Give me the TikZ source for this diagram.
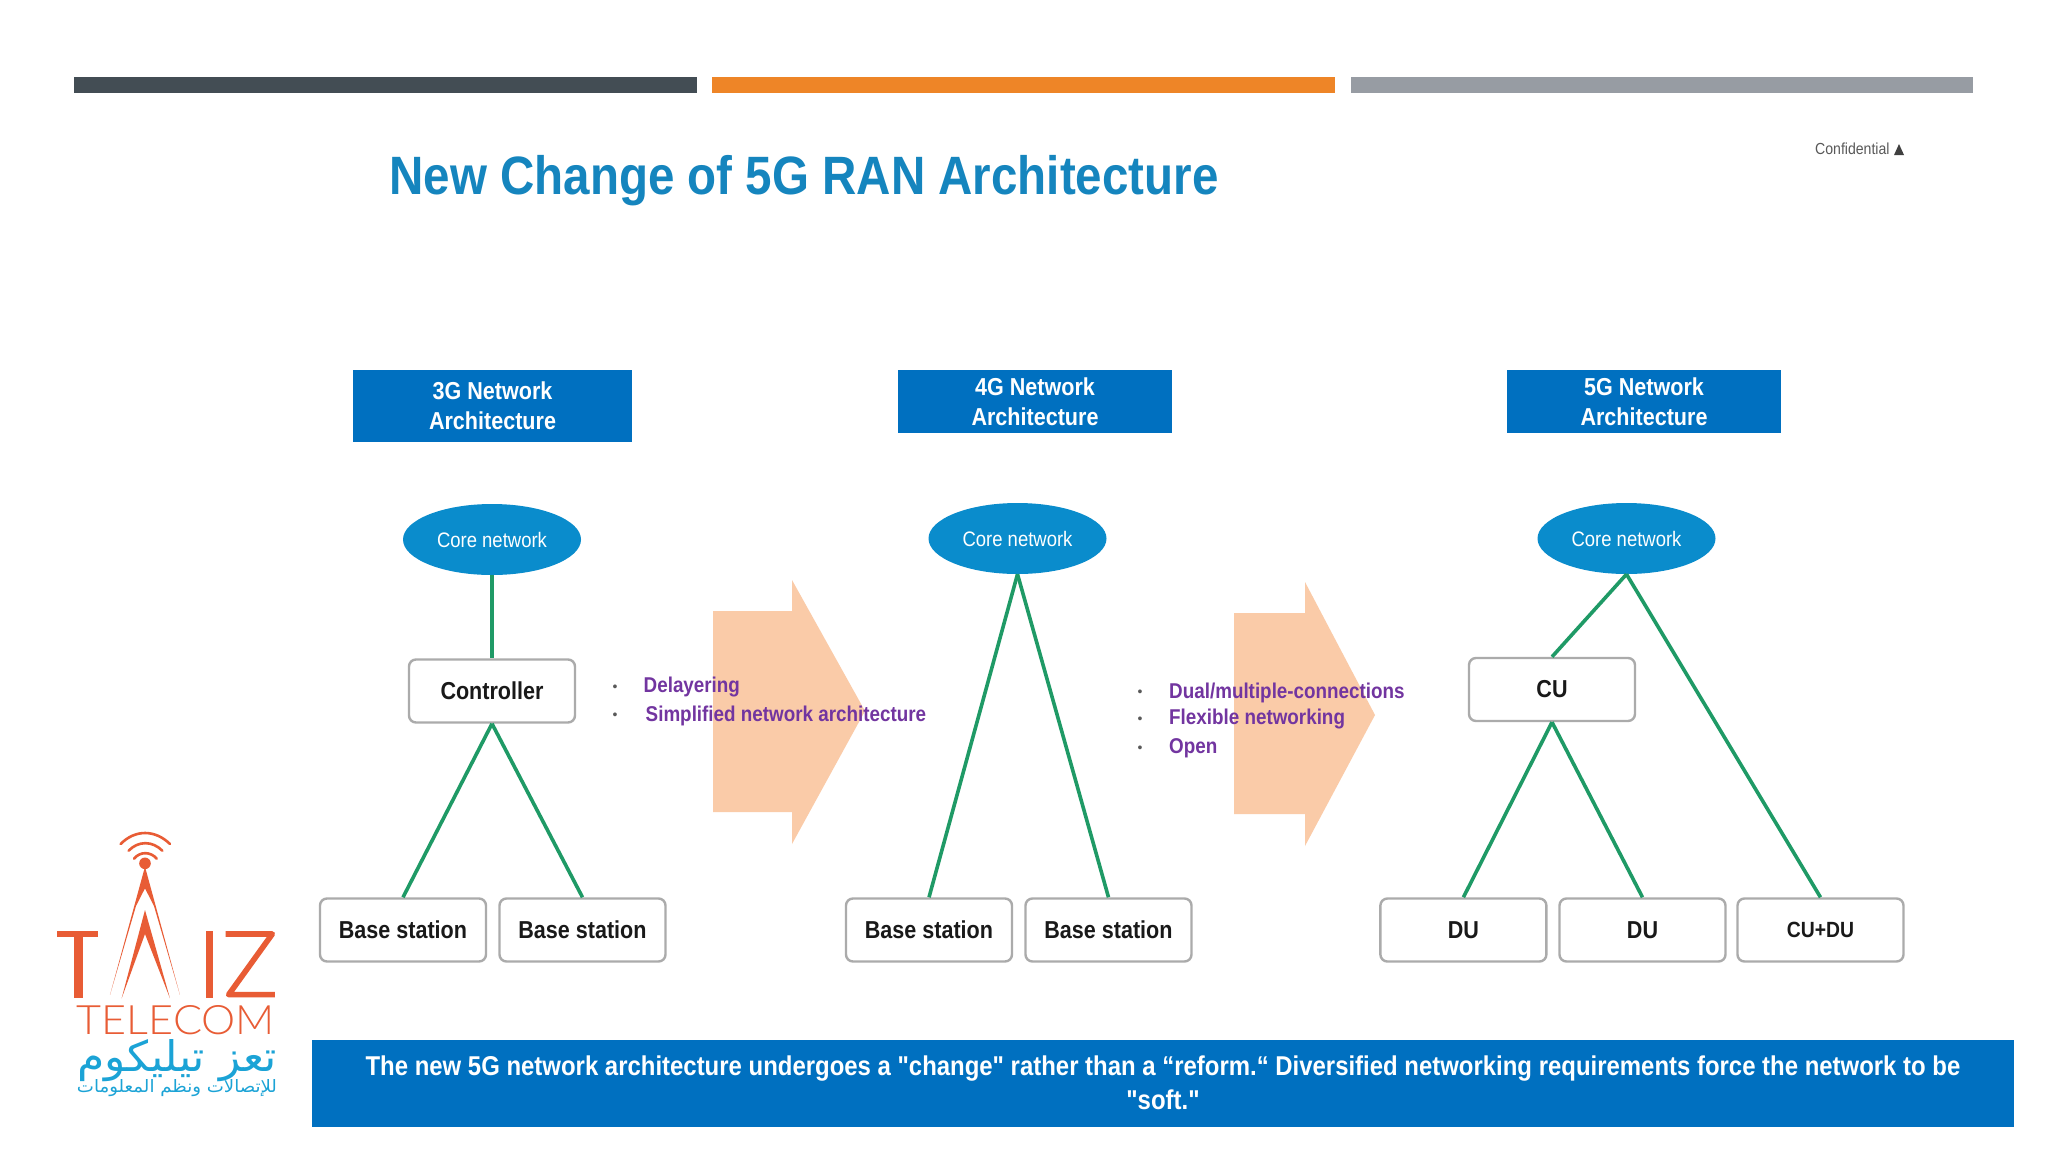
\documentclass[tikz,border=0pt]{standalone}
\usepackage{fontspec}
\usepackage{graphicx}
\usetikzlibrary{shapes.geometric}
\setmainfont{Liberation Sans}
\newfontfamily\nar{Liberation Sans}[FakeStretch=0.88]
\newfontfamily\logolat{Lato Light}
\newfontfamily\arabicfont[Script=Arabic]{DejaVu Sans}
\TeXXeTstate=1
\definecolor{barA}{HTML}{434D54}
\definecolor{barB}{HTML}{EE8527}
\definecolor{barC}{HTML}{979CA3}
\definecolor{headblue}{HTML}{0070C0}
\definecolor{coreblue}{HTML}{0A8CCC}
\definecolor{titleblue}{HTML}{1585BE}
\definecolor{linegreen}{HTML}{1F9A66}
\definecolor{boxgray}{HTML}{ABABAB}
\definecolor{peach}{HTML}{FACBA8}
\definecolor{lilac}{HTML}{7235A0}
\definecolor{logored}{HTML}{E85C35}
\definecolor{logoblue}{HTML}{1BA3D6}
\tikzset{
  bar/.style={fill=#1,draw=none},
  header/.style={fill=headblue,draw=none,text=white,align=center,inner sep=0pt,
     font=\nar\bfseries\fontsize{24.5}{30}\selectfont},
  core/.style={ellipse,fill=coreblue,draw=none,text=white,inner sep=0pt,
     minimum width=178pt,minimum height=71pt,font=\nar\fontsize{21}{24}\selectfont},
  unit/.style={rounded corners=7pt,draw=boxgray,line width=2.4pt,fill=white,inner sep=0pt,
     minimum width=166pt,minimum height=63pt,text=black!90,font=\nar\bfseries\fontsize{24.5}{28}\selectfont},
  link/.style={draw=linegreen,line width=3.6pt},
  bigarrow/.style={fill=peach,draw=none},
  note/.style={text=lilac,anchor=west,inner sep=0pt,font=\nar\bfseries\fontsize{21.4}{24}\selectfont},
  dot/.style={text=black!65,inner sep=0pt,font=\fontsize{14}{14}\selectfont},
}
\begin{document}
\begin{tikzpicture}[x=1pt,y=-1pt]
\useasboundingbox (0,0) rectangle (2048,1152);
\fill[white] (0,0) rectangle (2048,1152);
% top bars
\fill[bar=barA] (74.4,77) rectangle (697,92.7);
\fill[bar=barB] (712,77) rectangle (1335,92.7);
\fill[bar=barC] (1351,77) rectangle (1973,92.7);
% title
\node[text=titleblue,inner sep=0pt,font=\nar\bfseries\fontsize{54}{60}\selectfont] (title) at (804,181) {New Change of 5G RAN Architecture};
\node[text=black!65,anchor=west,inner sep=0pt,font=\nar\fontsize{16}{18}\selectfont] (conf) at (1815,149) {Confidential};
\fill[black!75] (1894,155) -- (1899,144) -- (1904,155) -- cycle;
% arrows
\fill[bigarrow] (713,611) -- (792,611) -- (792,580) -- (865,711) -- (792,844) -- (792,812) -- (713,812) -- cycle;
\fill[bigarrow] (1234,613) -- (1305,613) -- (1305,582) -- (1375,715) -- (1305,846) -- (1305,814) -- (1234,814) -- cycle;
% headers
\node[header,minimum width=279.5pt,minimum height=72pt] (h3) at (492.5,406) {3G Network\\Architecture};
\node[header,minimum width=274.5pt,minimum height=62.5pt] (h4) at (1035,401.5) {4G Network\\Architecture};
\node[header,minimum width=274.5pt,minimum height=62.5pt] (h5) at (1644,401.5) {5G Network\\Architecture};
% 3G
\node[core] (c3) at (492,539.5) {Core network};
\node[unit] (ctrl) at (492,691) {Controller};
\node[unit] (b31) at (403,930) {Base station};
\node[unit] (b32) at (582.5,930) {Base station};
% 4G
\node[core] (c4) at (1017.5,538.5) {Core network};
\node[unit] (b41) at (929,930) {Base station};
\node[unit] (b42) at (1108.5,930) {Base station};
% 5G
\node[core] (c5) at (1626.5,538.5) {Core network};
\node[unit] (cu) at (1552,689.5) {CU};
\node[unit] (du1) at (1463.4,930) {DU};
\node[unit] (du2) at (1642.5,930) {DU};
\node[unit,font=\nar\bfseries\fontsize{22}{26}\selectfont] (cd) at (1820.5,930) {CU+DU};
% links
\draw[link] (c3.south) -- (ctrl.north);
\draw[link] (ctrl.south) -- (b31.north);
\draw[link] (ctrl.south) -- (b32.north);
\draw[link] (c4.south) -- (b41.north);
\draw[link] (c4.south) -- (b42.north);
\draw[link] (c5.south) -- (cu.north);
\draw[link] (c5.south) -- (cd.north);
\draw[link] (cu.south) -- (du1.north);
\draw[link] (cu.south) -- (du2.north);
% notes
\node[dot] (d1) at (615,688) {•};
\node[dot] (d2) at (615,716) {•};
\node[note] (n1) at (643.5,687.5) {Delayering};
\node[note] (n2) at (645.5,715.5) {Simplified network architecture};
\node[dot] (d3) at (1140,693) {•};
\node[dot] (d4) at (1140,720) {•};
\node[dot] (d5) at (1140,749) {•};
\node[note] (n3) at (1169,692.5) {Dual/multiple-connections};
\node[note] (n4) at (1169,719.5) {Flexible networking};
\node[note] (n5) at (1169,748.5) {Open};
% banner
\fill[headblue] (312,1040) rectangle (2014,1127);
\node[text=white,align=center,inner sep=0pt,font=\nar\bfseries\fontsize{27.2}{34}\selectfont] (banner) at (1163,1083)
 {The new 5G network architecture undergoes a "change" rather than a “reform.“ Diversified networking requirements force the network to be\\"soft."};
% logo (drawn directly); zoom coordinates: px = 30 + z/3, py = 820 + z/3
\begin{scope}[shift={(30,820)},x=0.3333pt,y=-0.3333pt]
 \draw[logored,line width=2.6pt,line cap=round] (272,72) .. controls (315,28) and (375,28) .. (420,72);
 \draw[logored,line width=2.6pt,line cap=round] (296,92) .. controls (325,62) and (367,62) .. (397,92);
 \draw[logored,line width=2.6pt,line cap=round] (312,116) .. controls (330,94) and (362,94) .. (380,116);
 \fill[logored] (345,130) circle (5.8pt);
 \fill[logored] (345,140) -- (450,525) -- (372,258) -- (345,205) -- (318,258) -- (240,525) -- cycle;
 \fill[logored] (345,270) -- (420,535) -- (345,342) -- (275,535) -- cycle;
 \fill[logored] (82,333) rectangle (205,350);
 \fill[logored] (133,350) rectangle (160,533);
 \fill[logored] (527,333) rectangle (550,533);
 \draw[logored,line width=5.6pt,line join=round] (587,342) -- (727,342) -- (596,524) -- (735,524);
\end{scope}
\node[text=logored,inner sep=0pt] (telecom) at (176,1020.5) {\resizebox{198pt}{29pt}{\logolat TELECOM}};
\node[text=logoblue,inner sep=0pt] (ar1) at (177,1061) {\resizebox{200pt}{32pt}{\arabicfont\beginR تعز تيليكوم\endR}};
\node[text=logoblue,inner sep=0pt] (ar2) at (177,1088) {\resizebox{200pt}{13pt}{\arabicfont\beginR للإتصالات ونظم المعلومات\endR}};
\end{tikzpicture}
\end{document}
